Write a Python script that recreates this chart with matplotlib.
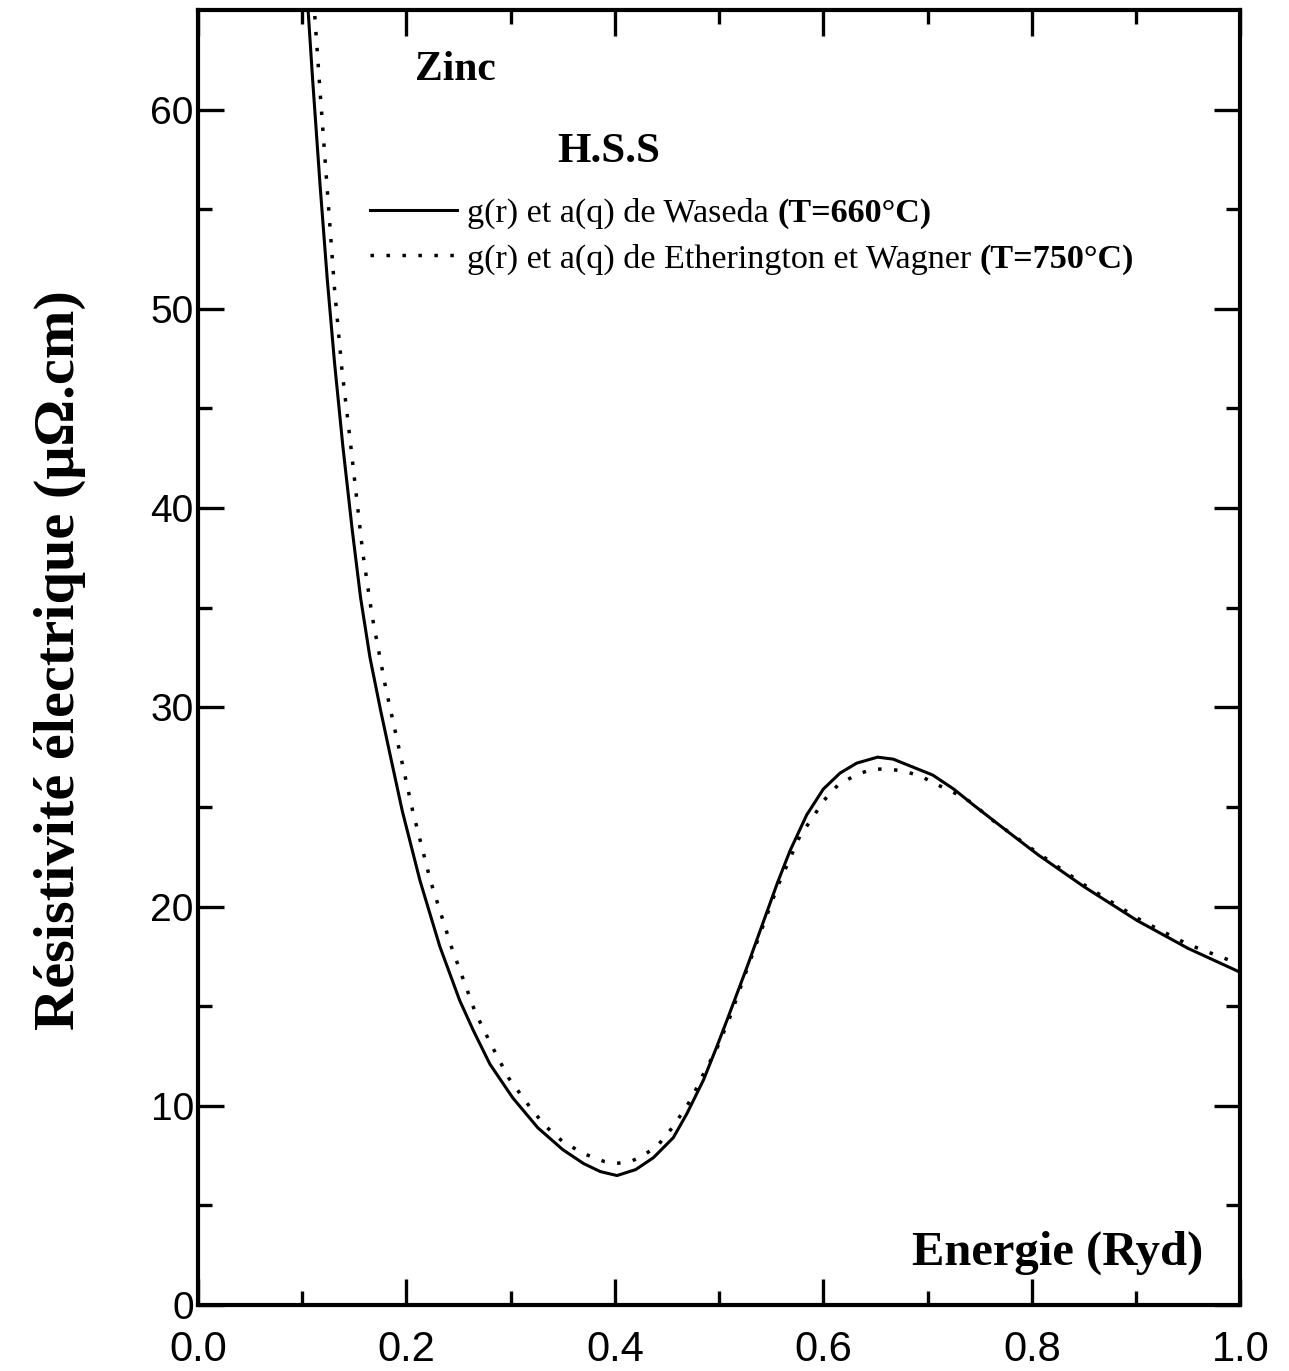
import matplotlib
matplotlib.use("Agg")
import matplotlib.pyplot as plt

# ---------- data ----------
energie_waseda = [0.105, 0.110, 0.117, 0.124, 0.131, 0.139, 0.148, 0.156, 0.165,
                  0.175, 0.184, 0.196, 0.213, 0.232, 0.251, 0.264, 0.280, 0.302,
                  0.326, 0.350, 0.370, 0.386, 0.402, 0.420, 0.437, 0.456, 0.469,
                  0.485, 0.498, 0.509, 0.527, 0.556, 0.568, 0.584, 0.600, 0.616,
                  0.632, 0.652, 0.667, 0.686, 0.705, 0.725, 0.744, 0.776, 0.806,
                  0.850, 0.901, 0.950, 1.0]
rho_waseda = [65.5, 61.5, 56.3, 51.5, 47.3, 43.1, 38.9, 35.5, 32.5,
              29.9, 27.7, 24.8, 21.3, 18.0, 15.3, 13.8, 12.1, 10.4,
              8.9, 7.8, 7.1, 6.7, 6.5, 6.8, 7.4, 8.4, 9.6,
              11.3, 13.0, 14.5, 17.0, 21.2, 22.8, 24.6, 25.9, 26.7,
              27.2, 27.5, 27.4, 27.0, 26.6, 25.9, 25.1, 23.8, 22.6,
              21.0, 19.3, 17.9, 16.7]

energie_ew = [0.111, 0.117, 0.124, 0.131, 0.138, 0.146, 0.158, 0.167, 0.180,
              0.193, 0.206, 0.223, 0.243, 0.266, 0.280, 0.298, 0.319, 0.333,
              0.350, 0.370, 0.390, 0.400, 0.415, 0.427, 0.441, 0.455, 0.464,
              0.474, 0.482, 0.498, 0.510, 0.527, 0.556, 0.578, 0.589, 0.600,
              0.614, 0.631, 0.647, 0.662, 0.678, 0.695, 0.710, 0.726, 0.743,
              0.758, 0.800, 0.850, 0.905, 0.950, 1.0]
rho_ew = [65.5, 61.0, 56.0, 51.0, 47.0, 43.4, 37.8, 34.6, 31.0,
          27.9, 24.8, 21.3, 18.0, 14.7, 13.2, 11.4, 9.9, 9.0,
          8.2, 7.6, 7.2, 7.1, 7.2, 7.5, 8.0, 8.9, 9.6,
          10.4, 11.3, 12.9, 14.4, 16.9, 21.0, 23.6, 24.4, 25.3,
          26.1, 26.6, 26.9, 26.9, 26.8, 26.5, 26.1, 25.7, 25.2,
          24.5, 22.9, 21.1, 19.3, 18.1, 17.1]

xticks = [0.0, 0.2, 0.4, 0.6, 0.8, 1.0]
xtick_labels = ["0.0", "0.2", "0.4", "0.6", "0.8", "1.0"]
yticks = [0, 10, 20, 30, 40, 50, 60]

labels = ["g(r) et a(q) de Waseda",
          "g(r) et a(q) de Etherington et Wagner"]
temperatures = ["(T=660°C)", "(T=750°C)"]

serif = "Liberation Serif"
sans = "Liberation Sans"

fig = plt.figure(figsize=(12.89, 13.71), dpi=100)
ax = fig.add_axes([0.1536, 0.0481, 0.8086, 0.9446])

ax.plot(energie_waseda, rho_waseda, color="black", lw=2.2, label=labels[0])
ax.plot(energie_ew, rho_ew, color="black", lw=2.5, linestyle=(0, (1.0, 3.6)),
        label=labels[1])

ax.set_xlim(0, 1.0)
ax.set_ylim(0, 65)
ax.set_xticks(xticks)
ax.set_xticklabels(xtick_labels, fontfamily=sans, fontsize=30)
ax.set_yticks(yticks)
ax.set_yticklabels([str(v) for v in yticks], fontfamily=sans, fontsize=28)
ax.set_xticks([0.1, 0.3, 0.5, 0.7, 0.9], minor=True)
ax.set_yticks([5, 15, 25, 35, 45, 55], minor=True)
ax.tick_params(which="both", direction="in", top=True, right=True, width=2.4)
ax.tick_params(which="major", length=19)
ax.tick_params(which="minor", length=10)
ax.tick_params(axis="x", pad=18)
ax.tick_params(axis="y", pad=3)
for s in ax.spines.values():
    s.set_linewidth(3)

ax.text(0.208, 0.954, "Zinc", transform=ax.transAxes, fontfamily=serif,
        fontweight="bold", fontsize=30, va="center", ha="left")
ax.text(0.345, 0.890, "H.S.S", transform=ax.transAxes, fontfamily=serif,
        fontweight="bold", fontsize=31, va="center", ha="left")
ax.text(0.9645, 0.040, "Energie (Ryd)", transform=ax.transAxes, fontfamily=serif,
        fontweight="bold", fontsize=35, va="center", ha="right")

fig.text(60 / 1289, 1 - 660 / 1371, "Résistivité électrique (μΩ.cm)",
         fontfamily=serif, fontweight="bold", fontsize=42, rotation=90,
         va="center", ha="center")

leg = ax.legend(loc="upper left", bbox_to_anchor=(0.165, 0.855), frameon=False,
                prop={"family": serif, "size": 24.6}, handlelength=2.55,
                handletextpad=0.3, borderpad=0, borderaxespad=0, labelspacing=0.42)

# bold temperature after each legend entry (drawn after the legend)
for txt, temp in zip(leg.get_texts(), temperatures):
    ax.annotate(temp, xy=(1, 0), xycoords=txt, xytext=(6, 0),
                textcoords="offset points", va="bottom", ha="left",
                fontfamily=serif, fontweight="bold", fontsize=24.6, zorder=6)

fig.savefig("out.png", dpi=100)
